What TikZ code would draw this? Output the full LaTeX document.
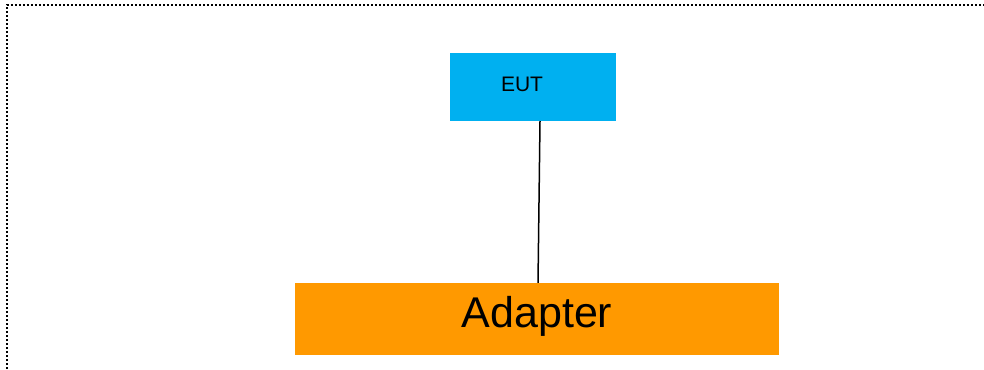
\documentclass[tikz,border=0pt]{standalone}
\usepackage{fontspec}
\setmainfont{Liberation Sans}
\usetikzlibrary{calc}
\definecolor{eutblue}{HTML}{00B0F0}
\definecolor{adapterorange}{HTML}{FF9900}
\tikzset{
  block/.style={rectangle, draw=none, inner sep=0pt},
  frame/.style={line width=2pt, dash pattern=on 2pt off 2pt, draw=black},
  wire/.style={line width=1.5pt, draw=black},
  caption/.style={inner sep=0pt, anchor=base, text=black}
}
\begin{document}
\begin{tikzpicture}[x=1pt, y=-1pt]
  \useasboundingbox (0,0) rectangle (984,369);
  % dotted enclosure (top and left edges)
  \draw[frame] (7,369) -- (7,5) -- (984,5);
  % equipment under test
  \node[block, fill=eutblue, minimum width=166pt, minimum height=68pt] (eut) at (533,87) {};
  \node[caption, font=\fontsize{21}{25}\selectfont] (euttext) at (522,91.5) {EUT};
  % adapter
  \node[block, fill=adapterorange, minimum width=484pt, minimum height=72pt] (adapter) at (537,319) {};
  \node[caption, font=\fontsize{43}{50}\selectfont] (adaptertext) at (537,327) {Adapter};
  % cable between them
  \draw[wire] ($(eut.south)+(7,0)$) -- ($(adapter.north)+(1,0)$);
\end{tikzpicture}
\end{document}
